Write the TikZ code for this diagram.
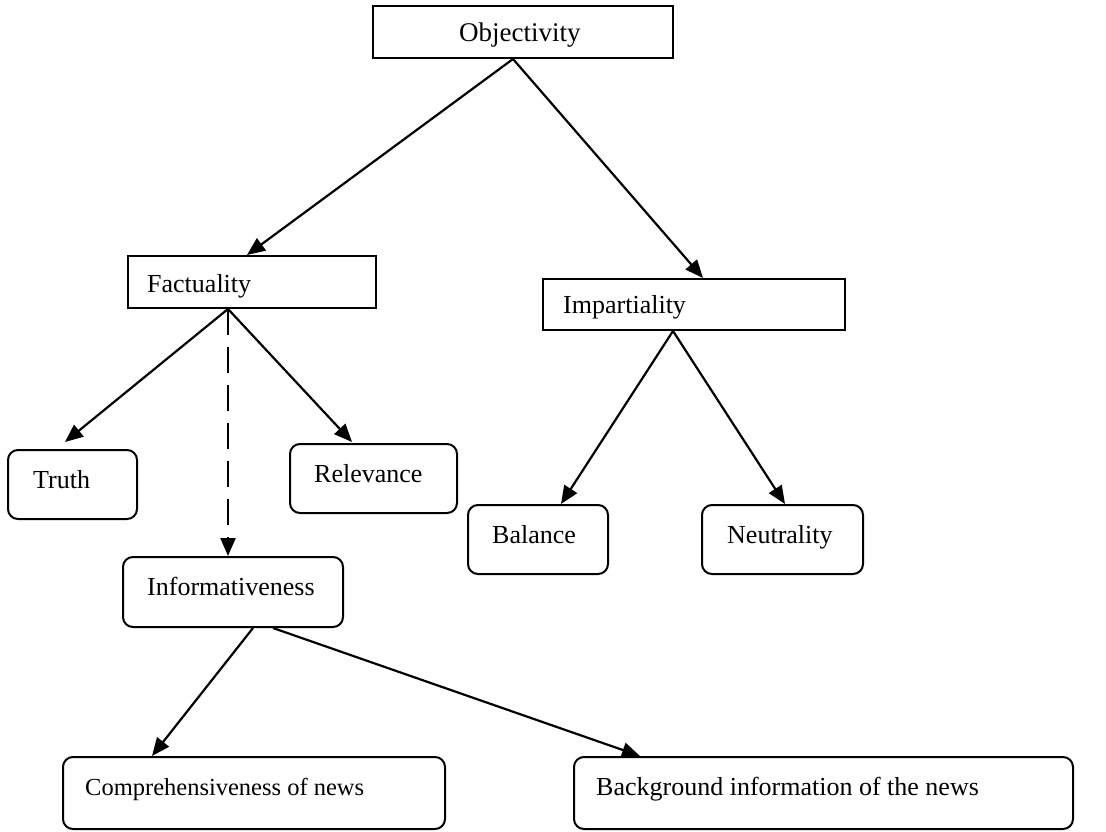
\documentclass[tikz,border=0pt]{standalone}
\usepackage{fontspec}
\setmainfont{Liberation Serif}
\usetikzlibrary{arrows.meta}
\begin{document}
\begin{tikzpicture}[x=1pt,y=-1pt,
  box/.style={draw, line width=2pt, inner sep=0pt},
  rbox/.style={box, rounded corners=10pt},
  lbl/.style={anchor=base west, inner sep=0pt, font=\fontsize{26}{30}\selectfont},
  arr/.style={line width=2.2pt, -{Triangle[length=18pt,width=15pt]}},
  dasharr/.style={arr, dash pattern=on 26pt off 12pt}
]
\useasboundingbox (0,0) rectangle (1106,832);
% boxes
\node[box, minimum width=300pt, minimum height=52pt] (obj) at (523,32) {};
\node[box, minimum width=248pt, minimum height=52pt] (fact) at (252,282) {};
\node[box, minimum width=302pt, minimum height=51pt] (imp) at (694,304.5) {};
\node[rbox, minimum width=129pt, minimum height=69pt] (truth) at (72.5,484.5) {};
\node[rbox, minimum width=167pt, minimum height=69pt] (rel) at (373.5,478.5) {};
\node[rbox, minimum width=220pt, minimum height=70pt] (info) at (233,592) {};
\node[rbox, minimum width=140pt, minimum height=69pt] (bal) at (538,539.5) {};
\node[rbox, minimum width=161pt, minimum height=69pt] (neu) at (782.5,539.5) {};
\node[rbox, minimum width=382pt, minimum height=72pt] (comp) at (254,793) {};
\node[rbox, minimum width=499pt, minimum height=72pt] (back) at (823.5,793) {};
% labels
\node[lbl, font=\fontsize{27}{30}\selectfont] (objt) at (459,42) {Objectivity};
\node[lbl] (factt) at (147,292) {Factuality};
\node[lbl] (impt) at (563,313) {Impartiality};
\node[lbl] (trutht) at (33,488) {Truth};
\node[lbl] (relt) at (314,482) {Relevance};
\node[lbl] (infot) at (147,595) {Informativeness};
\node[lbl] (balt) at (492,543) {Balance};
\node[lbl] (neut) at (727,543) {Neutrality};
\node[lbl, font=\fontsize{24.5}{28}\selectfont] (compt) at (85,795) {Comprehensiveness of news};
\node[lbl] (backt) at (596,795) {Background information of the news};
% connectors
\draw[arr] ([xshift=-10pt]obj.south) -- ([xshift=-5pt]fact.north);
\draw[arr] ([xshift=-10pt]obj.south) -- ([xshift=9pt]imp.north);
\draw[arr] ([xshift=-24pt]fact.south) -- ([xshift=-7.5pt,yshift=7pt]truth.north);
\draw[arr] ([xshift=-24pt]fact.south) -- ([xshift=-21.5pt,yshift=1pt]rel.north);
\draw[dasharr] ([xshift=-24pt]fact.south) -- ([xshift=-5pt]info.north);
\draw[arr] ([xshift=-21pt]imp.south) -- ([xshift=23pt]bal.north);
\draw[arr] ([xshift=-21pt]imp.south) -- ([xshift=2.5pt]neu.north);
\draw[arr] ([xshift=20pt]info.south) -- ([xshift=-102pt]comp.north);
\draw[arr] ([xshift=40pt]info.south) -- ([xshift=-183.5pt]back.north);
\end{tikzpicture}
\end{document}
